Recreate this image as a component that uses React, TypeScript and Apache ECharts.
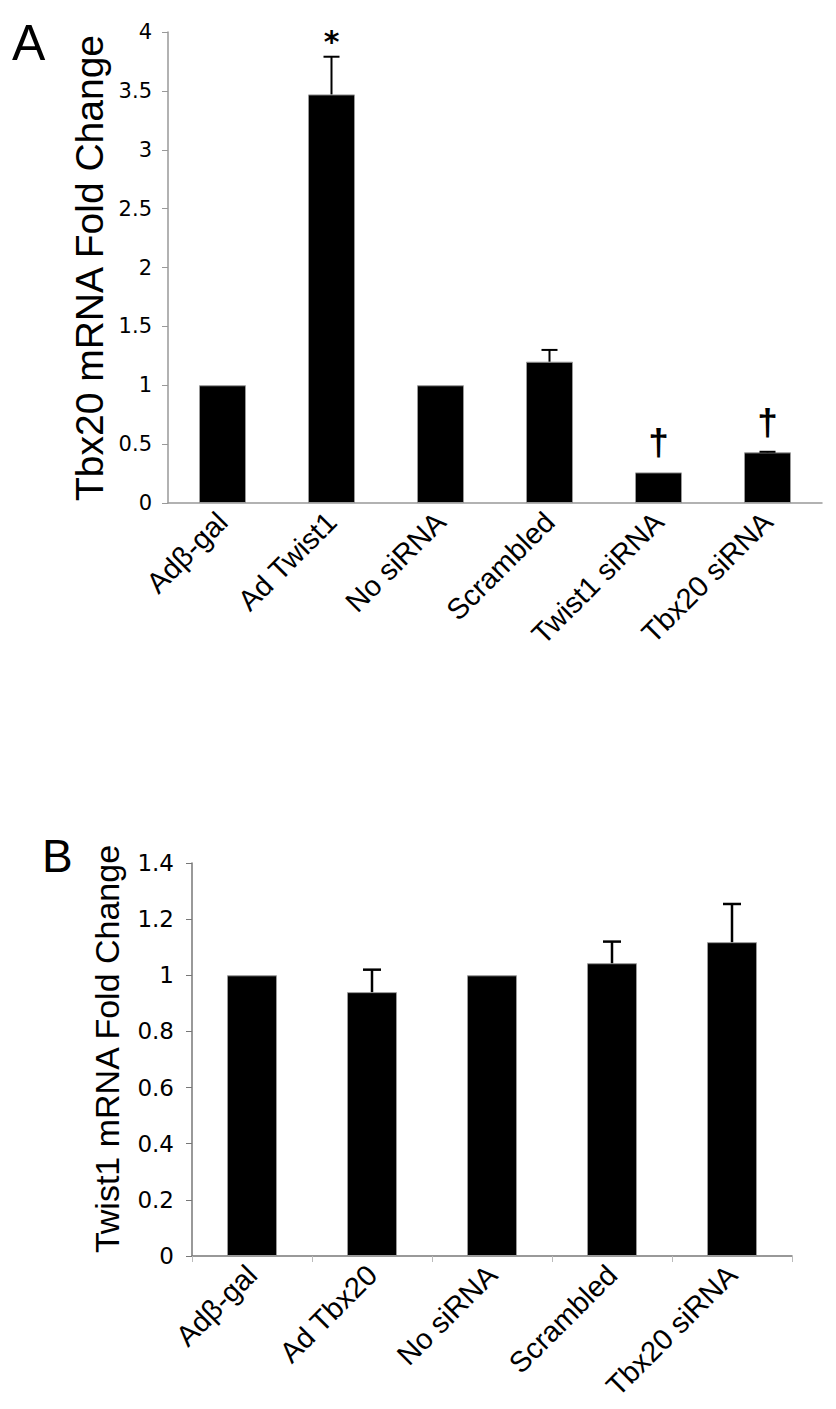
import React, { useEffect, useRef } from "react";
import * as echarts from "echarts";

// Panel A data
const catsA = ["Adβ-gal", "Ad Twist1", "No siRNA", "Scrambled", "Twist1 siRNA", "Tbx20 siRNA"];
const valsA = [1.0, 3.47, 1.0, 1.2, 0.26, 0.43];
const errTopA = [1.0, 3.79, 1.0, 1.3, 0.26, 0.435];
const marksA = ["", "*", "", "", "†", "†"];
const ticksA = { min: 0, max: 4, interval: 0.5 };

// Panel B data
const catsB = ["Adβ-gal", "Ad Tbx20", "No siRNA", "Scrambled", "Tbx20 siRNA"];
const valsB = [1.0, 0.94, 1.0, 1.043, 1.118];
const errTopB = [1.0, 1.02, 1.0, 1.12, 1.254];
const ticksB = { min: 0, max: 1.4, interval: 0.2 };

const titleA = "Tbx20 mRNA Fold Change";
const titleB = "Twist1 mRNA Fold Change";

const SANS = "'Liberation Sans', Arial, sans-serif";
const TICKF = "'DejaVu Sans', Verdana, sans-serif";

function errRender(capW: number, lw: number) {
  return (params: any, api: any) => {
    const i = api.value(0);
    const v = api.value(1);
    const t = api.value(2);
    if (t - v < 0.002) return { type: "group", children: [] };
    const p0 = api.coord([i, v]);
    const p1 = api.coord([i, t]);
    return {
      type: "group",
      children: [
        { type: "line", shape: { x1: p0[0], y1: p0[1], x2: p1[0], y2: p1[1] }, style: { stroke: "#000", lineWidth: lw } },
        { type: "line", shape: { x1: p1[0] - capW / 2, y1: p1[1], x2: p1[0] + capW / 2, y2: p1[1] }, style: { stroke: "#000", lineWidth: lw } },
      ],
    };
  };
}

function markRender(params: any, api: any) {
  const i = api.value(0);
  const t = api.value(1);
  const idx = params.dataIndex;
  const txt = marksA[idx];
  if (!txt) return { type: "group", children: [] };
  const p = api.coord([i, t]);
  const isStar = txt === "*";
  return {
    type: "text",
    x: p[0],
    y: p[1] - (isStar ? 0 : 11),
    style: {
      text: txt,
      fill: "#000",
      font: isStar ? `bold 30px ${TICKF}` : `bold 37px ${SANS}`,
      align: "center",
      textAlign: "center",
      verticalAlign: "bottom",
      textVerticalAlign: "bottom",
    },
  };
}

export default function App() {
  const ref = useRef<HTMLDivElement>(null);
  useEffect(() => {
    if (!ref.current) return;
    const chart = echarts.init(ref.current, undefined, { renderer: "svg" });
    const option: any = {
      animation: false,
      backgroundColor: "#fff",
      grid: [
        { left: 168, top: 32, width: 654, height: 471 },
        { left: 192, top: 863, width: 600, height: 393 },
      ],
      xAxis: [
        {
          type: "category",
          gridIndex: 0,
          data: catsA,
          axisLine: { lineStyle: { color: "#999", width: 1.5 } },
          axisTick: { show: false },
          axisLabel: { rotate: 45, interval: 0, margin: 14, color: "#000", fontFamily: SANS, fontSize: 29 },
        },
        {
          type: "category",
          gridIndex: 1,
          data: catsB,
          axisLine: { lineStyle: { color: "#777", width: 1.5 } },
          axisTick: { show: true, length: 6, lineStyle: { color: "#bbb" } },
          axisLabel: { rotate: 45, interval: 0, margin: 14, color: "#000", fontFamily: SANS, fontSize: 29 },
        },
      ],
      yAxis: [
        {
          type: "value",
          gridIndex: 0,
          min: ticksA.min,
          max: ticksA.max,
          interval: ticksA.interval,
          splitLine: { show: false },
          axisLine: { show: true, lineStyle: { color: "#999", width: 1.5 } },
          axisTick: { show: true, length: 6, lineStyle: { color: "#999" } },
          axisLabel: { margin: 16, color: "#000", fontFamily: TICKF, fontSize: 21 },
        },
        {
          type: "value",
          gridIndex: 1,
          min: ticksB.min,
          max: ticksB.max,
          interval: ticksB.interval,
          splitLine: { show: false },
          axisLine: { show: true, lineStyle: { color: "#777", width: 1.5 } },
          axisTick: { show: true, length: 6, lineStyle: { color: "#777" } },
          axisLabel: { margin: 18, color: "#000", fontFamily: TICKF, fontSize: 23 },
        },
      ],
      series: [
        {
          type: "bar",
          xAxisIndex: 0,
          yAxisIndex: 0,
          data: valsA,
          barWidth: 47,
          itemStyle: { color: "#000", borderColor: "#999", borderWidth: 1 },
        },
        {
          type: "custom",
          xAxisIndex: 0,
          yAxisIndex: 0,
          data: valsA.map((v, i) => [i, v, errTopA[i]]),
          renderItem: errRender(16, 2),
          z: 5,
        },
        {
          type: "custom",
          xAxisIndex: 0,
          yAxisIndex: 0,
          data: errTopA.map((t, i) => [i, t]),
          renderItem: markRender,
          z: 6,
        },
        {
          type: "bar",
          xAxisIndex: 1,
          yAxisIndex: 1,
          data: valsB,
          barWidth: 50,
          itemStyle: { color: "#000", borderColor: "#999", borderWidth: 1 },
        },
        {
          type: "custom",
          xAxisIndex: 1,
          yAxisIndex: 1,
          data: valsB.map((v, i) => [i, v, errTopB[i]]),
          renderItem: errRender(18, 2.5),
          z: 5,
        },
      ],
      graphic: [
        { type: "text", left: 12, top: 18, style: { text: "A", font: `50px ${SANS}`, fill: "#000" } },
        { type: "text", left: 42, top: 833, style: { text: "B", font: `46px ${SANS}`, fill: "#000" } },
        {
          type: "text",
          x: 89,
          y: 268,
          rotation: Math.PI / 2,
          style: { text: titleA, font: `39px ${SANS}`, fill: "#000", align: "center", verticalAlign: "middle", textAlign: "center", textVerticalAlign: "middle" },
        },
        {
          type: "text",
          x: 107,
          y: 1049,
          rotation: Math.PI / 2,
          style: { text: titleB, font: `34px ${SANS}`, fill: "#000", align: "center", verticalAlign: "middle", textAlign: "center", textVerticalAlign: "middle" },
        },
      ],
    };
    chart.setOption(option);
    return () => chart.dispose();
  }, []);
  return <div ref={ref} style={{ position: "absolute", left: 0, top: 0, width: 836, height: 1409 }} />;
}
